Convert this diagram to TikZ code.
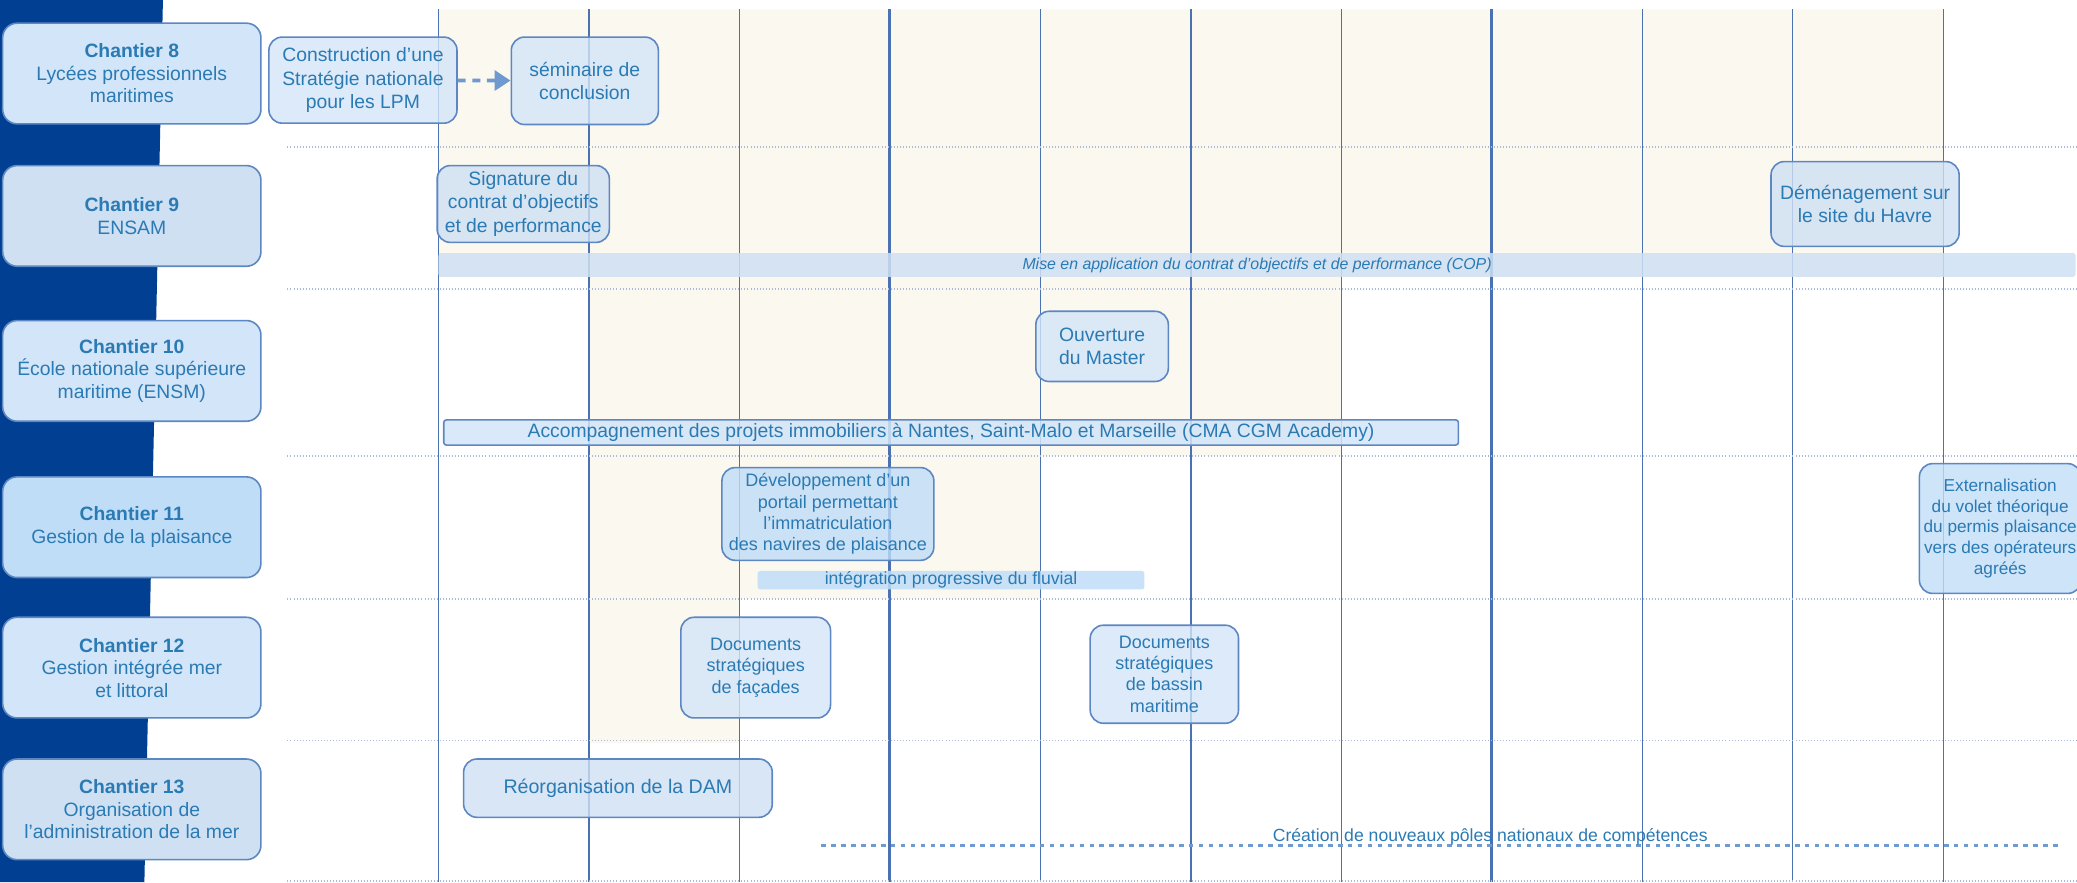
\documentclass[tikz,border=0pt]{standalone}
\usepackage{fontspec}
\setmainfont{Liberation Sans}
\usetikzlibrary{arrows.meta}

\definecolor{bandblue}{HTML}{003F91}
\definecolor{textblue}{HTML}{2A7AB4}
\definecolor{edgeblue}{HTML}{5C87C2}
\definecolor{lineblue}{HTML}{4A72B2}
\definecolor{dotblue}{HTML}{A9B9DB}
\definecolor{beige}{HTML}{FBF8EF}
\definecolor{boxfill}{HTML}{D3E5F8}
\definecolor{boxdark}{HTML}{CFE0F3}
\definecolor{boxsat}{HTML}{C0DDF8}
\definecolor{arrowblue}{HTML}{6F9AD0}

\tikzset{
	chantier/.style={draw=edgeblue, line width=1.2pt, rounded corners=11pt, fill=#1,
		minimum width=195pt, minimum height=76pt, inner sep=0pt, align=center,
		text=textblue, font=\fontsize{14.6}{17}\selectfont},
	jalon/.style={draw=edgeblue, line width=1.2pt, rounded corners=10pt, fill=#1,
		fill opacity=0.8, text opacity=1, draw opacity=1, inner sep=0pt, align=center,
		text=textblue, font=\fontsize{14.6}{17.5}\selectfont},
	barre/.style={fill=#1, fill opacity=0.85, text opacity=1, inner sep=0pt,
		rounded corners=2pt, text=textblue},
	pointilles/.style={dotblue, line width=1.3pt, dash pattern=on 0.7pt off 1.6pt},
	tirets/.style={arrowblue, line width=2.2pt, dash pattern=on 3.5pt off 4pt},
	fleche/.style={arrowblue, line width=2.8pt, dash pattern=on 6pt off 5pt,
		-{Triangle[length=12pt, width=15pt]}}
}

\begin{document}
\begin{tikzpicture}[x=1pt, y=-1pt]
	\useasboundingbox (0,0) rectangle (1568,666);

	% bandeau de gauche
	\fill[bandblue] (0,0) -- (123,0) -- (109,666) -- (0,666) -- cycle;

	% periode en fond
	\fill[beige] (331,7) -- (1467,7) -- (1467,209) -- (1012,209) -- (1012,344)
		-- (785,344) -- (785,452) -- (558,452) -- (558,561) -- (445,561)
		-- (445,209) -- (331,209) -- cycle;

	% colonnes
	\foreach \k/\w in {0/1,1/1,2/1,3/2.4,4/1,5/1,6/1,7/2.4,8/1,9/1,10/1}
		\draw[lineblue, line width=\w pt] ({331+113.6*\k},7) -- ({331+113.6*\k},666);

	% lignes entre chantiers
	\foreach \y in {111,218,344,452,559,665}
		\draw[pointilles] (217,\y) -- (1568,\y);

	% chantiers
	\node[chantier=boxfill] (C8) at (99.5,55.5) {\textbf{Chantier 8}\\Lycées professionnels\\maritimes};
	\node[chantier=boxdark] (C9) at (99.5,163) {\textbf{Chantier 9}\\ENSAM};
	\node[chantier=boxfill] (C10) at (99.5,280) {\textbf{Chantier 10}\\École nationale supérieure\\maritime (ENSM)};
	\node[chantier=boxsat] (C11) at (99.5,398) {\textbf{Chantier 11}\\Gestion de la plaisance};
	\node[chantier=boxfill] (C12) at (99.5,504) {\textbf{Chantier 12}\\Gestion intégrée mer\\et littoral};
	\node[chantier=boxdark] (C13) at (99.5,611) {\textbf{Chantier 13}\\Organisation de\\l'administration de la mer};

	% chantier 8
	\node[jalon=boxfill, minimum width=142pt, minimum height=65pt] (LPM) at (274,60.5)
		{Construction d'une\\Stratégie nationale\\pour les LPM};
	\node[jalon=boxfill, minimum width=111pt, minimum height=66pt] (SEM) at (441.5,61)
		{séminaire de\\conclusion};
	\draw[fleche] (LPM) -- (SEM);

	% chantier 9
	\node[jalon=boxdark, minimum width=130pt, minimum height=58pt] (COPsig) at (395,154)
		{Signature du\\contrat d'objectifs\\et de performance};
	\node[jalon=boxdark, minimum width=142pt, minimum height=64pt] (HAV) at (1408,154)
		{Déménagement sur\\le site du Havre};
	\node[barre=boxdark, minimum width=1236pt, minimum height=18pt,
		font=\fontsize{12}{13}\selectfont\itshape] (COP) at (949,200)
		{Mise en application du contrat d'objectifs et de performance (COP)};

	% chantier 10
	\node[jalon=boxfill, minimum width=100pt, minimum height=53pt] (MAS) at (832,261.5)
		{Ouverture\\du Master};
	\node[barre=boxfill, draw=edgeblue, line width=1.2pt, draw opacity=1,
		minimum width=766pt, minimum height=19pt, font=\fontsize{14.6}{16}\selectfont] (IMM) at (718,326.5)
		{Accompagnement des projets immobiliers à Nantes, Saint-Malo et Marseille (CMA CGM Academy)};

	% chantier 11
	\node[jalon=boxsat, minimum width=160pt, minimum height=70pt,
		font=\fontsize{13.6}{16}\selectfont] (POR) at (625,388)
		{Développement d'un\\portail permettant\\l'immatriculation\\des navires de plaisance};
	\node[barre=boxsat, minimum width=292pt, minimum height=14pt,
		font=\fontsize{13.3}{14}\selectfont] (FLU) at (718,438)
		{intégration progressive du fluvial};
	\node[jalon=boxsat, minimum width=122pt, minimum height=98pt,
		font=\fontsize{13}{15.7}\selectfont] (PER) at (1510,399)
		{Externalisation\\du volet théorique\\du permis plaisance\\vers des opérateurs\\agréés};

	% chantier 12
	\node[jalon=boxfill, minimum width=113pt, minimum height=76pt,
		font=\fontsize{13.6}{16}\selectfont] (FAC) at (570.5,504)
		{Documents\\stratégiques\\de façades};
	\node[jalon=boxfill, minimum width=112pt, minimum height=74pt,
		font=\fontsize{13.6}{16}\selectfont] (BAS) at (879,509)
		{Documents\\stratégiques\\de bassin\\maritime};

	% chantier 13
	\node[jalon=boxdark, minimum width=233pt, minimum height=44pt,
		font=\fontsize{14.8}{17}\selectfont] (DAM) at (466.5,595)
		{Réorganisation de la DAM};
	\coordinate (P1) at (620,638);
	\coordinate (P2) at (1555,638);
	\draw[tirets] (P1) -- (P2);
	\node[text=textblue, font=\fontsize{13.3}{15}\selectfont, inner sep=0pt] (POL) at (1125,632)
		{Création de nouveaux pôles nationaux de compétences};
\end{tikzpicture}
\end{document}
